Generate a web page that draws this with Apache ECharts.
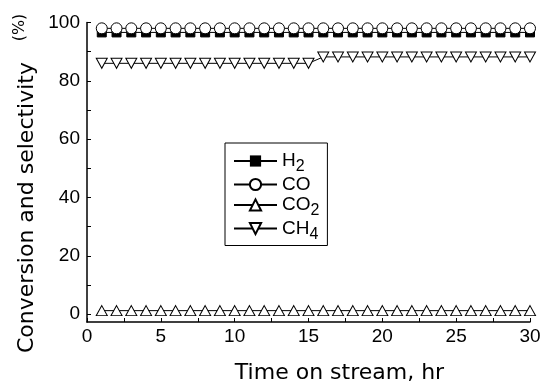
<!DOCTYPE html>
<html><head><meta charset="utf-8">
<script src="https://cdn.jsdelivr.net/npm/echarts@6/dist/echarts.min.js"></script>
<style>html,body{margin:0;padding:0;background:#fff}#c{width:544px;height:389px}</style>
</head><body><div id="c"></div>
<script>
const hours = [1,2,3,4,5,6,7,8,9,10,11,12,13,14,15,16,17,18,19,20,21,22,23,24,25,26,27,28,29,30];
const h2 = [96.6,96.6,96.6,96.6,96.6,96.6,96.6,96.6,96.6,96.6,96.6,96.6,96.6,96.6,96.6,96.6,96.6,96.6,96.6,96.6,96.6,96.6,96.6,96.6,96.6,96.6,96.6,96.6,96.6,96.6];
const co = [98.0,98.0,98.0,98.0,98.0,98.0,98.0,98.0,98.0,98.0,98.0,98.0,98.0,98.0,98.0,98.0,98.0,98.0,98.0,98.0,98.0,98.0,98.0,98.0,98.0,98.0,98.0,98.0,98.0,98.0];
const co2 = [1.2,1.2,1.2,1.2,1.2,1.2,1.2,1.2,1.2,1.2,1.2,1.2,1.2,1.2,1.2,1.2,1.2,1.2,1.2,1.2,1.2,1.2,1.2,1.2,1.2,1.2,1.2,1.2,1.2,1.2];
const ch4 = [86.0,86.0,86.0,86.0,86.0,86.0,86.0,86.0,86.0,86.0,86.0,86.0,86.0,86.0,86.0,88.2,88.2,88.2,88.2,88.2,88.2,88.2,88.2,88.2,88.2,88.2,88.2,88.2,88.2,88.2];
const seriesNames = ['H2','CO','CO2','CH4'];
const legendLabels = {H2:'H{s|2}', CO:'CO', CO2:'CO{s|2}', CH4:'CH{s|4}'};
const yTicks = [0,10,20,30,40,50,60,70,80,90,100];
const yLabels = [0,20,40,60,80,100];
const xTitle = 'Time on stream, hr';
const yTitle = 'Conversion and selectivity';
const yUnit = '(%)';

const pair = arr => hours.map((h,i)=>[h,arr[i]]);
const lineStyle = {color:'#000', width:1};
const chart = echarts.init(document.getElementById('c'), null, {renderer:'canvas'});
chart.setOption({
  animation:false,
  grid:{left:87, right:14, top:22.5, bottom:50},
  xAxis:{
    type:'value', min:0, max:30, interval:5,
    axisLine:{onZero:false, lineStyle:{color:'#000', width:1.5}},
    axisTick:{inside:true, length:4, lineStyle:{color:'#000'}},
    minorTick:{show:true, splitNumber:2, length:4, lineStyle:{color:'#000'}},
    splitLine:{show:false},
    axisLabel:{color:'#000', fontSize:19, fontFamily:'Liberation Sans', margin:5},
    name:xTitle, nameLocation:'middle', nameGap:40,
    nameTextStyle:{color:'#000', fontSize:22, fontFamily:'DejaVu Sans', padding:[0,0,0,62]}
  },
  yAxis:{
    type:'value', min:-2.7, max:100,
    axisLine:{show:true, lineStyle:{color:'#000', width:1.5}},
    axisTick:{show:true, inside:true, length:4, customValues:yTicks, lineStyle:{color:'#000'}},
    splitLine:{show:false},
    axisLabel:{color:'#000', fontSize:19, fontFamily:'Liberation Sans', margin:7, customValues:yLabels}
  },
  graphic:[
    {type:'text', x:27, y:207.5, rotation:Math.PI/2,
     style:{text:yTitle, fill:'#000', font:'22px "DejaVu Sans"', textAlign:'center', textVerticalAlign:'middle'}},
    {type:'text', x:20, y:27.5, rotation:Math.PI/2,
     style:{text:yUnit, fill:'#000', font:'16px "DejaVu Sans"', textAlign:'center', textVerticalAlign:'middle'}}
  ],
  legend:{
    orient:'vertical', left:225, top:143,
    padding:[7,8,3,8], itemGap:-1.5, itemWidth:43, itemHeight:14,
    borderColor:'#000', borderWidth:1,
    data:seriesNames,
    formatter: n => legendLabels[n],
    textStyle:{color:'#000', fontSize:19, lineHeight:22, fontFamily:'Liberation Sans',
      rich:{s:{fontSize:16, padding:[12,0,0,0], fontFamily:'Liberation Sans', color:'#000'}}}
  },
  series:[
    {name:'H2', type:'line', data:pair(h2), symbol:'rect', symbolSize:9, z:2,
     lineStyle:lineStyle, itemStyle:{color:'#000', borderColor:'#000'}},
    {name:'CO', type:'line', data:pair(co), symbol:'circle', symbolSize:11, z:3,
     lineStyle:lineStyle, itemStyle:{color:'#fff', borderColor:'#000', borderWidth:1}},
    {name:'CO2', type:'line', data:pair(co2), symbol:'triangle', symbolSize:[11,10], z:2,
     lineStyle:lineStyle, itemStyle:{color:'#fff', borderColor:'#000', borderWidth:1}},
    {name:'CH4', type:'line', data:pair(ch4), symbol:'triangle', symbolRotate:180, symbolSize:[11,10], z:2,
     lineStyle:lineStyle, itemStyle:{color:'#fff', borderColor:'#000', borderWidth:1}}
  ]
});
</script></body></html>
